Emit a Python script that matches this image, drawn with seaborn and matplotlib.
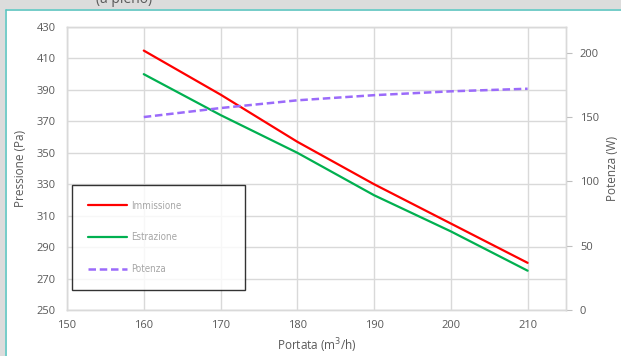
import matplotlib
matplotlib.use('Agg')
import matplotlib.pyplot as plt
import matplotlib.patches as mpatches
from matplotlib.lines import Line2D
import seaborn as sns
import pandas as pd

# ── DATA ──────────────────────────────────────────────────────────
portata = [160, 170, 180, 190, 200, 210]
immissione = [415, 387, 357, 330, 305, 280]
estrazione = [400, 374, 350, 323, 300, 275]
potenza = [150, 157, 163, 167, 170, 172]

x_ticks = [150, 160, 170, 180, 190, 200, 210]
p_ticks = [250, 270, 290, 310, 330, 350, 370, 390, 410, 430]
w_ticks = [0, 50, 100, 150, 200]

df = pd.DataFrame({'Portata': portata, 'Immissione': immissione,
                   'Estrazione': estrazione, 'Potenza': potenza})

sns.set_style('white')
plt.rcParams['font.family'] = ['Open Sans', 'DejaVu Sans']

TXT = '#595959'
GRID = '#d9d9d9'

fig = plt.figure(figsize=(6.21, 3.56), dpi=100)
fig.patch.set_facecolor('white')

# window frame of the screenshot
fig.patches.append(mpatches.Rectangle((0, 1 - 9 / 356), 1, 9 / 356, transform=fig.transFigure,
                                      facecolor='#dcdcdc', edgecolor='none', zorder=0))
fig.patches.append(mpatches.Rectangle((0, 0), 5 / 621, 1, transform=fig.transFigure,
                                      facecolor='#dcdcdc', edgecolor='none', zorder=0))
fig.lines.append(Line2D([5.5 / 621, 5.5 / 621], [0, 1 - 9.5 / 356], transform=fig.transFigure,
                        color='#5cc3bf', linewidth=1.2))
fig.lines.append(Line2D([5.5 / 621, 1], [1 - 9.5 / 356, 1 - 9.5 / 356], transform=fig.transFigure,
                        color='#5cc3bf', linewidth=1.2))
# title of the sheet, mostly out of view
fig.text(96 / 621, 1 - 3 / 356, '(a pieno)', ha='left', va='baseline', fontsize=10, color=TXT)

ax = fig.add_axes([67 / 621, 46 / 356, 499 / 621, 283 / 356])
ax2 = ax.twinx()

sns.lineplot(data=df, x='Portata', y='Immissione', ax=ax, color='#ff0000', linewidth=1.6)
sns.lineplot(data=df, x='Portata', y='Estrazione', ax=ax, color='#00b050', linewidth=1.6)
sns.lineplot(data=df, x='Portata', y='Potenza', ax=ax2, color='#9b6bfa', linewidth=1.8,
             linestyle=(0, (3, 1.5)))

ax.set_xlim(150, 215)
ax.set_ylim(250, 430)
ax2.set_ylim(0, 220)
ax.set_xticks(x_ticks)
ax.set_yticks(p_ticks)
ax2.set_yticks(w_ticks)

ax.grid(True, color=GRID, linewidth=1)
ax.set_axisbelow(True)
for a in (ax, ax2):
    for s in a.spines.values():
        s.set_color(GRID)
        s.set_linewidth(1)

ax.tick_params(axis='both', length=0, labelsize=8, colors=TXT)
ax.tick_params(axis='y', pad=8)
ax.tick_params(axis='x', pad=7)
ax2.tick_params(axis='y', length=4, color='#bfbfbf', labelsize=8, colors=TXT, pad=6)
ax2.tick_params(axis='y', color='#bfbfbf')

ax.set_xlabel('Portata (m$^3$/h)', fontsize=8.5, color=TXT, labelpad=4)
ax.set_ylabel('Pressione (Pa)', fontsize=8.5, color=TXT, labelpad=7)
ax2.set_ylabel('Potenza (W)', fontsize=8.5, color=TXT, labelpad=5, rotation=90)

handles = [ax.lines[0], ax.lines[1], ax2.lines[0]]
labels = ['Immissione', 'Estrazione', 'Potenza']
leg = ax.legend(handles, labels, loc='lower left', bbox_to_anchor=(0.01, 0.071, 0.347, 0.367),
                mode='expand', borderaxespad=0, frameon=True, fancybox=False,
                prop={'family': 'DejaVu Sans', 'stretch': 'condensed', 'size': 7},
                labelcolor='#a6a6a6', handlelength=4.1, handletextpad=0.4,
                labelspacing=2.25, borderpad=1.6)
leg.get_frame().set_edgecolor('black')
leg.get_frame().set_linewidth(1)
leg.set_zorder(10)

plt.savefig('out.png', dpi=100)
